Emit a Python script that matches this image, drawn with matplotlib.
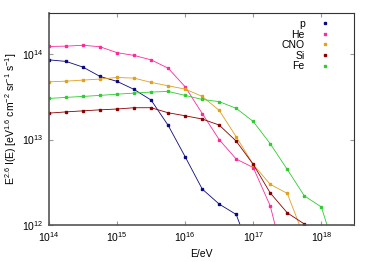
import matplotlib
matplotlib.use("Agg")
import matplotlib.pyplot as plt
from matplotlib.lines import Line2D

plt.rcParams["font.family"] = ["Liberation Sans", "DejaVu Sans"]
plt.rcParams["mathtext.fontset"] = "custom"
plt.rcParams["mathtext.rm"] = "Liberation Sans"
plt.rcParams["mathtext.it"] = "Liberation Sans"

# energy grid (eV), quarter-decade steps
energy = [1e14, 1.78e14, 3.16e14, 5.62e14,
          1e15, 1.78e15, 3.16e15, 5.62e15,
          1e16, 1.78e16, 3.16e16, 5.62e16,
          1e17, 1.78e17, 3.16e17, 5.62e17,
          1e18, 1.78e18]

# E^2.6 I(E) per mass group
flux_p = [8.57e13, 8.22e13, 7.05e13, 5.48e13, 4.80e13, 3.86e13, 2.90e13, 1.47e13,
          6.30e12, 2.64e12, 1.76e12, 1.33e12, 3.93e11]
flux_he = [1.23e14, 1.24e14, 1.27e14, 1.22e14, 1.04e14, 9.66e13, 8.57e13, 6.85e13,
           4.15e13, 2.02e13, 1.00e13, 5.92e12, 4.71e12, 1.67e12, 2.71e11]
flux_cno = [4.74e13, 4.83e13, 4.97e13, 5.11e13, 5.33e13, 5.24e13, 4.67e13, 4.26e13,
            3.90e13, 3.20e13, 2.20e13, 1.08e13, 5.11e12, 2.99e12, 2.35e12, 7.16e11]
flux_si = [2.04e13, 2.11e13, 2.17e13, 2.23e13, 2.28e13, 2.36e13, 2.36e13, 2.06e13,
           1.90e13, 1.74e13, 1.48e13, 9.60e12, 5.13e12, 2.37e12, 1.39e12, 1.03e12]
flux_fe = [3.03e13, 3.12e13, 3.20e13, 3.29e13, 3.40e13, 3.50e13, 3.60e13, 3.66e13,
           3.29e13, 2.95e13, 2.78e13, 2.32e13, 1.63e13, 8.93e12, 4.48e12, 2.20e12,
           1.63e12, 3.82e11]

labels = ["p", "He", "CNO", "Si", "Fe"]
series = [flux_p, flux_he, flux_cno, flux_si, flux_fe]
colors = ["#0a0a80", "#ff2a9a", "#e0a020", "#8b0000", "#30cc30"]

fig = plt.figure(figsize=(3.74, 2.62), dpi=100)
ax = fig.add_axes([0.131, 0.141, 0.815, 0.808])

for vals, c in zip(series, colors):
    ax.plot(energy[:len(vals)], vals, color=c, lw=0.6, marker="s", ms=2.0,
            mec=c, mfc=c, clip_on=True)

ax.set_xscale("log")
ax.set_yscale("log")
ax.set_xlim(1e14, 3e18)
ax.set_ylim(1e12, 3e14)
ax.set_xticks([1e14, 1e15, 1e16, 1e17, 1e18])
ax.set_yticks([1e12, 1e13, 1e14])
ax.minorticks_off()
ax.tick_params(which="both", direction="in", top=True, right=True, length=3,
               width=0.8, color="#999999", labelsize=7.5, pad=4)

for side in ["top", "right"]:
    ax.spines[side].set_linewidth(0.8)
    ax.spines[side].set_color("#333333")
for side in ["left", "bottom"]:
    ax.spines[side].set_linewidth(1.2)
    ax.spines[side].set_color("#555555")

ax.set_xlabel("E/eV", fontsize=7.5, labelpad=3)
ax.set_ylabel(r"E$^{2.6}$ I(E) [eV$^{1.6}$ cm$^{-2}$ sr$^{-1}$ s$^{-1}$]",
              fontsize=7.5, labelpad=2)

handles = [Line2D([], [], ls="none", marker="s", ms=2.0, color=c) for c in colors]
ax.legend(handles, labels, loc="upper right", markerfirst=False, frameon=False,
          fontsize=7.5, handlelength=1.0, handletextpad=1.4, labelspacing=0.05,
          borderaxespad=0.15, bbox_to_anchor=(0.94, 1.0))

fig.savefig("out.png", dpi=100)
